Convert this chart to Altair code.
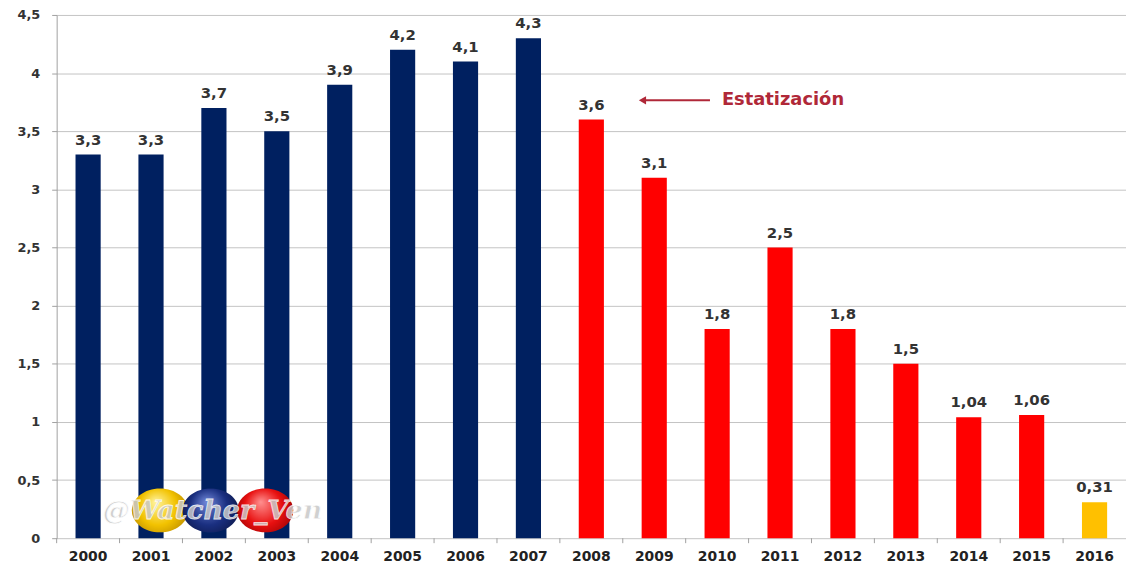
import altair as alt
import pandas as pd

years = [str(y) for y in range(2000, 2017)]
values = [3.3, 3.3, 3.7, 3.5, 3.9, 4.2, 4.1, 4.3, 3.6, 3.1, 1.8, 2.5, 1.8, 1.5, 1.04, 1.06, 0.31]
periods = ["antes"] * 8 + ["despues"] * 8 + ["actual"]
labels = [str(v).replace(".", ",") for v in values]
y_ticks = [0, 0.5, 1, 1.5, 2, 2.5, 3, 3.5, 4, 4.5]
annotation_text = ["Estatización"]
watermark_text = ["@Watcher_Ven"]

W, H = 1077, 527
STEP = W / len(years)

df = pd.DataFrame({"year": years, "value": values, "period": periods, "label": labels})

FONT = "DejaVu Sans"

x = alt.X(
    "year:N", title=None, sort=years,
    scale=alt.Scale(paddingInner=0.6, paddingOuter=0.3),
    axis=alt.Axis(labelAngle=0, labelFont=FONT, labelFontWeight="bold", labelFontSize=14,
                  labelColor="#222222", labelPadding=11, ticks=False, domain=False, grid=False),
)
y = alt.Y(
    "value:Q", title=None,
    scale=alt.Scale(domain=[0, 4.5], nice=False, zero=True),
    axis=alt.Axis(values=y_ticks, labelExpr="replace(toString(datum.value), '.', ',')",
                  labelFont=FONT, labelFontWeight="bold", labelFontSize=13, labelColor="#333333",
                  labelPadding=12, tickSize=5, tickColor="#a0a0a0", domainColor="#a0a0a0",
                  gridColor="#c4c4c4", gridWidth=1),
)

bars = alt.Chart(df).mark_bar().encode(
    x=x, y=y,
    color=alt.Color("period:N", legend=None,
                    scale=alt.Scale(domain=["antes", "despues", "actual"],
                                    range=["#002060", "#ff0000", "#ffc000"])),
)

text = alt.Chart(df).mark_text(dy=-7, baseline="bottom", font=FONT, fontWeight="bold",
                               fontSize=15, color="#333333").encode(
    x=alt.X("year:N", sort=years), y="value:Q", text="label:N")

xticks = alt.Chart(df).mark_rule(color="#a0a0a0", xOffset=-STEP / 2).encode(
    x=alt.X("year:N", sort=years), y=alt.value(H), y2=alt.value(H + 5))

one = pd.DataFrame({"t": annotation_text})
ann_color = "#b02838"
arrow_line = alt.Chart(one).mark_rule(color=ann_color, strokeWidth=2).encode(
    x=alt.value(592), x2=alt.value(658), y=alt.value(86))
arrow_head = alt.Chart(one).mark_point(shape="triangle-left", filled=True, size=70,
                                       color=ann_color, opacity=1).encode(
    x=alt.value(590), y=alt.value(86))
ann = alt.Chart(one).mark_text(align="left", baseline="middle", font=FONT, fontWeight="bold",
                               fontSize=18, color=ann_color).encode(
    x=alt.value(670), y=alt.value(86), text="t:N")

ELLIPSE = "M -1,0 A 1,0.78 0 1,1 1,0 A 1,0.78 0 1,1 -1,0 Z"


def sphere(cx, c_light, c_mid, c_dark):
    grad = alt.RadialGradient(
        gradient="radial",
        stops=[alt.GradientStop(offset=0, color=c_light),
               alt.GradientStop(offset=0.55, color=c_mid),
               alt.GradientStop(offset=1, color=c_dark)],
        x1=0.42, y1=0.35, r1=0, x2=0.5, y2=0.5, r2=0.6,
    )
    return alt.Chart(one).mark_point(shape=ELLIPSE, filled=True, size=3200, fill=grad,
                                     opacity=1, strokeWidth=0).encode(
        x=alt.value(cx), y=alt.value(499))


wm_df = pd.DataFrame({"t": watermark_text})
wm = alt.Chart(wm_df).mark_text(align="center", baseline="middle", font="DejaVu Serif",
                                fontStyle="italic", fontWeight="bold", fontSize=27,
                                fill="#c8c8c8", stroke="#ffffff", strokeWidth=0.8,
                                opacity=0.85).encode(
    x=alt.value(157), y=alt.value(500), text="t:N")

chart = alt.layer(
    bars, text, xticks, arrow_line, arrow_head, ann,
    sphere(104, "#fff4a0", "#f2c200", "#b08000"),
    sphere(155, "#6f86d8", "#1a2f80", "#0a1440"),
    sphere(210, "#ff9090", "#e81010", "#900000"),
    wm,
).properties(
    width=W, height=H,
    padding={"left": 49, "top": 5, "right": 0, "bottom": 25},
    autosize=alt.AutoSizeParams(type="none"),
    background="white",
).configure_view(stroke=None)

chart.save("out.html", embed_options={"renderer": "svg", "actions": False})
